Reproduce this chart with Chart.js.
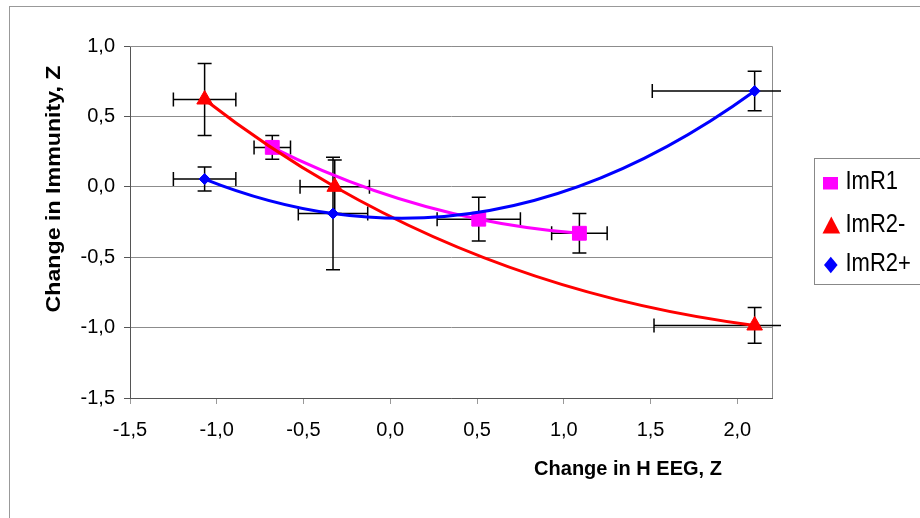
<!DOCTYPE html>
<html>
<head>
<meta charset="utf-8">
<script src="https://cdn.jsdelivr.net/npm/chart.js@4.4.0/dist/chart.umd.min.js"></script>
<style>
  body { margin: 0; background: #fff; }
  canvas { display: block; }
</style>
</head>
<body>
<canvas id="chart" width="920" height="518"></canvas>
<script>
// ImR1
const imr1X = [-0.68, 0.51, 1.09];
const imr1Y = [0.28, -0.23, -0.33];
const imr1XErr = [0.105, 0.24, 0.16];
const imr1YErr = [0.085, 0.155, 0.14];

// ImR2-
const imr2mX = [-1.07, -0.32, 2.10];
const imr2mY = [0.62, 0.0, -0.985];
const imr2mXErr = [0.18, 0.20, 0.58];
const imr2mYErr = [0.255, 0.19, 0.127];

// ImR2+
const imr2pX = [-1.07, -0.33, 2.10];
const imr2pY = [0.055, -0.19, 0.68];
const imr2pXErr = [0.18, 0.20, 0.59];
const imr2pYErr = [0.085, 0.40, 0.14];

const seriesNames = ['ImR1', 'ImR2-', 'ImR2+'];
const seriesColors = ['#ff00ff', '#ff0000', '#0000ff'];

// axis ranges
const xMin = -1.5, xMax = 2.2, xStep = 0.5;
const yMin = -1.5, yMax = 1.0, yStep = 0.5;

const xTitle = 'Change in H EEG, Z';
const yTitle = 'Change in Immunity, Z';

const FONT = '"Liberation Sans", Arial, sans-serif';

function toPoints(xs, ys) {
    return xs.map((x, i) => ({ x: x, y: ys[i] }));
}

const errors = [
    { xs: imr1X, ys: imr1Y, xe: imr1XErr, ye: imr1YErr },
    { xs: imr2mX, ys: imr2mY, xe: imr2mXErr, ye: imr2mYErr },
    { xs: imr2pX, ys: imr2pY, xe: imr2pXErr, ye: imr2pYErr }
];

function commaLabel(v) {
    return v.toFixed(1).replace('.', ',');
}

// smooth line through the pixel positions of the data (chord-length spline)
function drawSmooth(ctx, pts) {
    const n = pts.length;
    if (n < 2) return;
    const h = [];
    for (let i = 0; i < n - 1; i++) {
        h.push(Math.hypot(pts[i + 1].x - pts[i].x, pts[i + 1].y - pts[i].y));
    }
    const m = new Array(n);
    if (n === 2) {
        const d = { x: (pts[1].x - pts[0].x) / h[0], y: (pts[1].y - pts[0].y) / h[0] };
        m[0] = d; m[1] = d;
    } else {
        for (let i = 1; i < n - 1; i++) {
            const a = h[i - 1], b = h[i];
            m[i] = {
                x: ((pts[i].x - pts[i - 1].x) * b / a + (pts[i + 1].x - pts[i].x) * a / b) / (a + b),
                y: ((pts[i].y - pts[i - 1].y) * b / a + (pts[i + 1].y - pts[i].y) * a / b) / (a + b)
            };
        }
        m[0] = {
            x: 2 * (pts[1].x - pts[0].x) / h[0] - m[1].x,
            y: 2 * (pts[1].y - pts[0].y) / h[0] - m[1].y
        };
        const k = n - 1;
        m[k] = {
            x: 2 * (pts[k].x - pts[k - 1].x) / h[k - 1] - m[k - 1].x,
            y: 2 * (pts[k].y - pts[k - 1].y) / h[k - 1] - m[k - 1].y
        };
    }
    ctx.beginPath();
    ctx.moveTo(pts[0].x, pts[0].y);
    for (let i = 0; i < n - 1; i++) {
        const t = h[i] / 3;
        ctx.bezierCurveTo(
            pts[i].x + m[i].x * t, pts[i].y + m[i].y * t,
            pts[i + 1].x - m[i + 1].x * t, pts[i + 1].y - m[i + 1].y * t,
            pts[i + 1].x, pts[i + 1].y
        );
    }
    ctx.stroke();
}

const decorPlugin = {
    id: 'decor',
    beforeDraw(chart) {
        const ctx = chart.ctx;
        ctx.save();
        ctx.fillStyle = '#fff';
        ctx.fillRect(0, 0, chart.width, chart.height);
        ctx.strokeStyle = '#999';
        ctx.lineWidth = 1;
        ctx.strokeRect(9.5, 6.5, 2000, 2000);
        ctx.restore();
    },
    beforeDatasetsDraw(chart) {
        const ctx = chart.ctx;
        const area = chart.chartArea;
        const sx = chart.scales.x, sy = chart.scales.y;
        ctx.save();
        // top and right border of the plot area
        ctx.strokeStyle = '#8c8c8c';
        ctx.lineWidth = 1;
        ctx.beginPath();
        ctx.moveTo(area.left, area.top + 0.5);
        ctx.lineTo(area.right + 0.5, area.top + 0.5);
        ctx.lineTo(area.right + 0.5, area.bottom);
        ctx.stroke();

        // error bars
        ctx.beginPath();
        ctx.rect(0, 0, area.right + 9, chart.height);
        ctx.clip();
        ctx.strokeStyle = '#000';
        ctx.lineWidth = 1.5;
        const cap = 7;
        errors.forEach(s => {
            s.xs.forEach((xv, i) => {
                const px = sx.getPixelForValue(xv);
                const py = sy.getPixelForValue(s.ys[i]);
                const x1 = sx.getPixelForValue(xv - s.xe[i]);
                const x2 = sx.getPixelForValue(xv + s.xe[i]);
                const y1 = sy.getPixelForValue(s.ys[i] + s.ye[i]);
                const y2 = sy.getPixelForValue(s.ys[i] - s.ye[i]);
                ctx.beginPath();
                ctx.moveTo(x1, py); ctx.lineTo(x2, py);
                ctx.moveTo(x1, py - cap); ctx.lineTo(x1, py + cap);
                ctx.moveTo(x2, py - cap); ctx.lineTo(x2, py + cap);
                ctx.moveTo(px, y1); ctx.lineTo(px, y2);
                ctx.moveTo(px - cap, y1); ctx.lineTo(px + cap, y1);
                ctx.moveTo(px - cap, y2); ctx.lineTo(px + cap, y2);
                ctx.stroke();
            });
        });
        ctx.restore();
    },
    beforeDatasetDraw(chart, args) {
        const ctx = chart.ctx;
        const meta = args.meta;
        const pts = meta.data.map(el => ({ x: el.x, y: el.y }));
        ctx.save();
        ctx.strokeStyle = seriesColors[args.index];
        ctx.lineWidth = 3;
        ctx.lineJoin = 'round';
        ctx.lineCap = 'round';
        drawSmooth(ctx, pts);
        ctx.restore();
    },
    afterDraw(chart) {
        const ctx = chart.ctx;
        ctx.save();
        ctx.fillStyle = '#000';

        // x axis title
        ctx.font = 'bold 20px ' + FONT;
        ctx.textAlign = 'center';
        ctx.textBaseline = 'alphabetic';
        ctx.fillText(xTitle, 628, 475);

        // y axis title
        ctx.save();
        ctx.translate(59.5, 189);
        ctx.rotate(-Math.PI / 2);
        ctx.scale(1.16, 1);
        ctx.fillText(yTitle, 0, 0);
        ctx.restore();

        // legend
        ctx.strokeStyle = '#888';
        ctx.lineWidth = 1;
        ctx.strokeRect(814.5, 158.5, 200, 126);

        ctx.fillStyle = seriesColors[0];
        ctx.fillRect(823, 177, 15, 12.5);

        ctx.fillStyle = seriesColors[1];
        ctx.beginPath();
        ctx.moveTo(831.3, 216.5);
        ctx.lineTo(840.2, 233.5);
        ctx.lineTo(822.5, 233.5);
        ctx.closePath();
        ctx.fill();

        ctx.fillStyle = seriesColors[2];
        ctx.beginPath();
        ctx.moveTo(830.8, 256.7);
        ctx.lineTo(837.6, 265);
        ctx.lineTo(830.8, 273.3);
        ctx.lineTo(824, 265);
        ctx.closePath();
        ctx.fill();

        ctx.fillStyle = '#000';
        ctx.font = '22px ' + FONT;
        ctx.textAlign = 'left';
        const baselines = [189, 231.7, 270.7];
        seriesNames.forEach((name, i) => {
            ctx.save();
            ctx.translate(845.5, baselines[i]);
            ctx.scale(1, 1.13);
            ctx.fillText(name, 0, 0);
            ctx.restore();
        });
        ctx.restore();
    }
};

const ctx = document.getElementById('chart').getContext('2d');
new Chart(ctx, {
    type: 'scatter',
    data: {
        datasets: [
            {
                label: seriesNames[0],
                data: toPoints(imr1X, imr1Y),
                pointStyle: 'rect',
                pointRadius: 9.8,
                backgroundColor: seriesColors[0],
                borderColor: seriesColors[0],
                borderWidth: 1,
                showLine: false,
                order: 3
            },
            {
                label: seriesNames[1],
                data: toPoints(imr2mX, imr2mY),
                pointStyle: 'triangle',
                pointRadius: 9,
                backgroundColor: seriesColors[1],
                borderColor: seriesColors[1],
                borderWidth: 1,
                showLine: false,
                order: 2
            },
            {
                label: seriesNames[2],
                data: toPoints(imr2pX, imr2pY),
                pointStyle: 'rectRot',
                pointRadius: 5.5,
                backgroundColor: seriesColors[2],
                borderColor: seriesColors[2],
                borderWidth: 1,
                showLine: false,
                order: 1
            }
        ]
    },
    options: {
        responsive: false,
        devicePixelRatio: 1,
        animation: false,
        events: [],
        layout: {
            padding: { left: 0, right: 148, top: 46, bottom: 0 }
        },
        plugins: {
            legend: { display: false },
            tooltip: { enabled: false }
        },
        scales: {
            x: {
                type: 'linear',
                min: xMin,
                max: xMax,
                afterFit: function(scale) { scale.height = 120; },
                ticks: {
                    stepSize: xStep,
                    includeBounds: false,
                    padding: 14,
                    color: '#000',
                    font: { family: FONT, size: 20 },
                    maxRotation: 0,
                    callback: v => commaLabel(v)
                },
                grid: {
                    drawOnChartArea: false,
                    tickLength: 6,
                    tickColor: '#999'
                },
                border: { color: '#555', width: 1 }
            },
            y: {
                type: 'linear',
                min: yMin,
                max: yMax,
                afterFit: function(scale) { scale.width = 130; },
                ticks: {
                    stepSize: yStep,
                    padding: 9,
                    color: '#000',
                    font: { family: FONT, size: 20 },
                    callback: v => commaLabel(v)
                },
                grid: {
                    color: '#8c8c8c',
                    tickLength: 6,
                    tickColor: '#555'
                },
                border: { color: '#555', width: 1 }
            }
        }
    },
    plugins: [decorPlugin]
});
</script>
</body>
</html>
